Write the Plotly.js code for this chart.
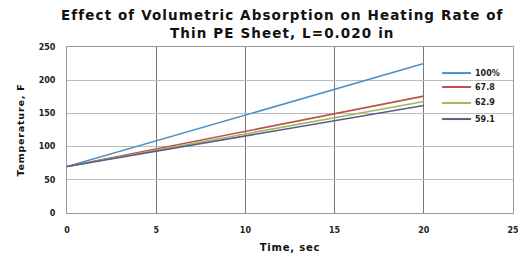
<!DOCTYPE html>
<html><head><meta charset="utf-8">
<script src="https://cdn.plot.ly/plotly-3.0.1.min.js"></script>
<style>html,body{margin:0;padding:0;background:#fff}#c{width:518px;height:257px}
.gtitle{letter-spacing:1.1px}
.xtitle,.ytitle{letter-spacing:0.8px}
</style>
</head><body><div id="c"></div>
<script>
const time = [0, 5, 10, 15, 20];
const seriesNames = ['100%', '67.8', '62.9', '59.1'];
const t100 = [70, 109, 148, 186, 225];
const t678 = [70, 96.5, 123, 149.5, 176];
const t629 = [70, 94.5, 119, 143.5, 168];
const t591 = [70, 93, 116, 139, 162];
const xTicks = [0, 5, 10, 15, 20, 25];
const yTicks = [0, 50, 100, 150, 200, 250];

const colors = ['#4f8fc4', '#c0504d', '#9bbb59', '#5b5a8c'];
const vals = [t100, t678, t629, t591];
const traces = vals.map((v, i) => ({
  x: time, y: v, name: seriesNames[i], type: 'scatter', mode: 'lines',
  line: {color: colors[i], width: 1.6}, showlegend: false
}));
const f = 'DejaVu Sans, sans-serif';
// custom legend (positions in plot-area paper fractions)
const legY = [0.843, 0.759, 0.663, 0.566];
const shapes = [], annotations = [];
seriesNames.forEach((n, i) => {
  shapes.push({type: 'line', xref: 'paper', yref: 'paper', x0: 0.841, x1: 0.906, y0: legY[i], y1: legY[i],
    line: {color: colors[i], width: 2}});
  annotations.push({xref: 'paper', yref: 'paper', x: 0.91, y: legY[i], xanchor: 'left', yanchor: 'middle',
    text: '<b>' + n + '</b>', showarrow: false, font: {family: f, size: 8, color: '#222'}});
});
const layout = {
  width: 518, height: 257,
  margin: {l: 67, r: 5, t: 47, b: 44},
  paper_bgcolor: '#fff', plot_bgcolor: '#fff',
  title: {text: '<b>Effect of Volumetric Absorption on Heating Rate of<br>Thin PE Sheet, L=0.020 in</b>',
    font: {family: f, size: 13.5, color: '#111'}, x: 0.545, xanchor: 'center',
    yref: 'container', y: 0.922, yanchor: 'middle'},
  xaxis: {range: [0, 25], tickvals: xTicks, ticktext: xTicks.map(String),
    showgrid: true, gridcolor: '#777', gridwidth: 1.2, zeroline: false,
    showline: true, linecolor: '#999', mirror: true,
    ticks: 'outside', ticklen: 9, tickcolor: 'rgba(0,0,0,0)', ticklabeloverflow: 'allow',
    tickfont: {family: f, size: 8, color: '#222', weight: 'bold'},
    title: {text: '<b>Time, sec</b>', font: {family: f, size: 10, color: '#111'}, standoff: 10}},
  yaxis: {range: [0, 250], tickvals: yTicks, ticktext: yTicks.map(String),
    showgrid: true, gridcolor: '#bbb', gridwidth: 1, zeroline: false,
    showline: true, linecolor: '#999', mirror: true,
    ticks: 'outside', ticklen: 9, tickcolor: 'rgba(0,0,0,0)',
    tickfont: {family: f, size: 8, color: '#222', weight: 'bold'},
    title: {text: '<b>Temperature, F</b>', font: {family: f, size: 9.5, color: '#111'}, standoff: 12}},
  showlegend: false,
  shapes: shapes, annotations: annotations
};
Plotly.newPlot('c', traces, layout, {displayModeBar: false, staticPlot: true});
</script></body></html>
